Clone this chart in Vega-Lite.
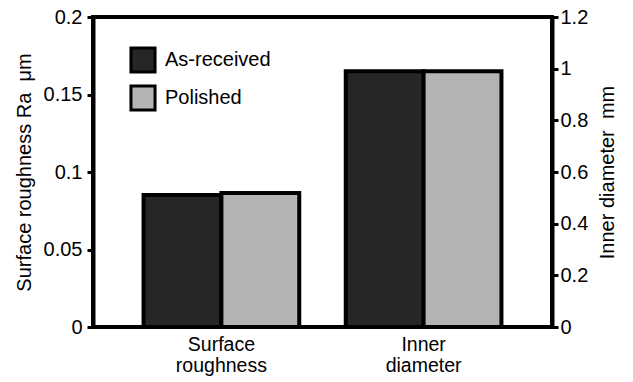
{
  "$schema": "https://vega.github.io/schema/vega-lite/v6.json",
  "width": 459,
  "height": 310,
  "autosize": "none",
  "padding": {"left": 93, "top": 17, "right": 81, "bottom": 55},
  "background": "white",
  "config": {
    "font": "Liberation Sans",
    "view": {"stroke": "black", "strokeWidth": 4},
    "axis": {
      "domainColor": "black",
      "domainWidth": 4,
      "labelColor": "black",
      "titleColor": "black",
      "labelFont": "Liberation Sans",
      "titleFont": "Liberation Sans",
      "grid": false
    }
  },
  "resolve": {"scale": {"y": "independent"}},
  "layer": [
    {
      "data": {"values": [
        {"category": "Surface roughness", "series": "As-received", "value": 0.0852},
        {"category": "Surface roughness", "series": "Polished", "value": 0.0865}
      ]},
      "mark": {"type": "bar", "stroke": "black", "strokeWidth": 4},
      "encoding": {
        "x": {
          "field": "category", "type": "nominal",
          "scale": {"domain": ["Surface roughness", "Inner diameter"], "paddingInner": 0.23, "paddingOuter": 0.25},
          "axis": {"title": null, "labelAngle": 0, "labelExpr": "split(datum.label, ' ')", "labelFontSize": 19.5, "labelPadding": 8, "ticks": false, "domain": false, "labelLineHeight": 21}
        },
        "xOffset": {"field": "series", "type": "nominal", "scale": {"domain": ["As-received", "Polished"], "paddingInner": 0, "paddingOuter": 0}},
        "y": {
          "field": "value", "type": "quantitative",
          "scale": {"domain": [0, 0.2], "nice": false},
          "axis": {"orient": "left", "title": "Surface roughness Ra\u00a0\u00a0μm", "tickCount": 4, "format": ".2~f", "domain": true, "ticks": true, "tickColor": "black", "tickWidth": 3, "tickSize": 6, "labelPadding": 5, "labelFontSize": 20, "titleFontSize": 20, "titleFontWeight": "normal", "titlePadding": 9}
        },
        "color": {
          "field": "series", "type": "nominal",
          "scale": {"domain": ["As-received", "Polished"], "range": ["#262626", "#b4b4b4"]},
          "legend": {"title": null, "orient": "none", "legendX": 36, "legendY": 29, "symbolType": "square", "symbolSize": 580, "symbolStrokeColor": "black", "symbolStrokeWidth": 3, "symbolOpacity": 1, "labelFontSize": 20, "labelColor": "black", "rowPadding": 0, "labelOffset": 8}
        }
      }
    },
    {
      "data": {"values": [
        {"category": "Inner diameter", "series": "As-received", "value": 0.99},
        {"category": "Inner diameter", "series": "Polished", "value": 0.99}
      ]},
      "mark": {"type": "bar", "stroke": "black", "strokeWidth": 4},
      "encoding": {
        "x": {"field": "category", "type": "nominal", "scale": {"domain": ["Surface roughness", "Inner diameter"], "paddingInner": 0.23, "paddingOuter": 0.25}},
        "xOffset": {"field": "series", "type": "nominal", "scale": {"domain": ["As-received", "Polished"], "paddingInner": 0, "paddingOuter": 0}},
        "y": {
          "field": "value", "type": "quantitative",
          "scale": {"domain": [0, 1.2], "nice": false},
          "axis": {"orient": "right", "title": "Inner diameter\u00a0\u00a0mm", "titleAngle": 270, "tickCount": 6, "format": ".1~f", "domain": true, "ticks": true, "tickColor": "black", "tickWidth": 3, "tickSize": 6, "labelPadding": 2, "labelFontSize": 20, "titleFontSize": 20, "titleFontWeight": "normal", "titlePadding": 30}
        },
        "color": {"field": "series", "type": "nominal", "scale": {"domain": ["As-received", "Polished"], "range": ["#262626", "#b4b4b4"]}}
      }
    }
  ]
}
